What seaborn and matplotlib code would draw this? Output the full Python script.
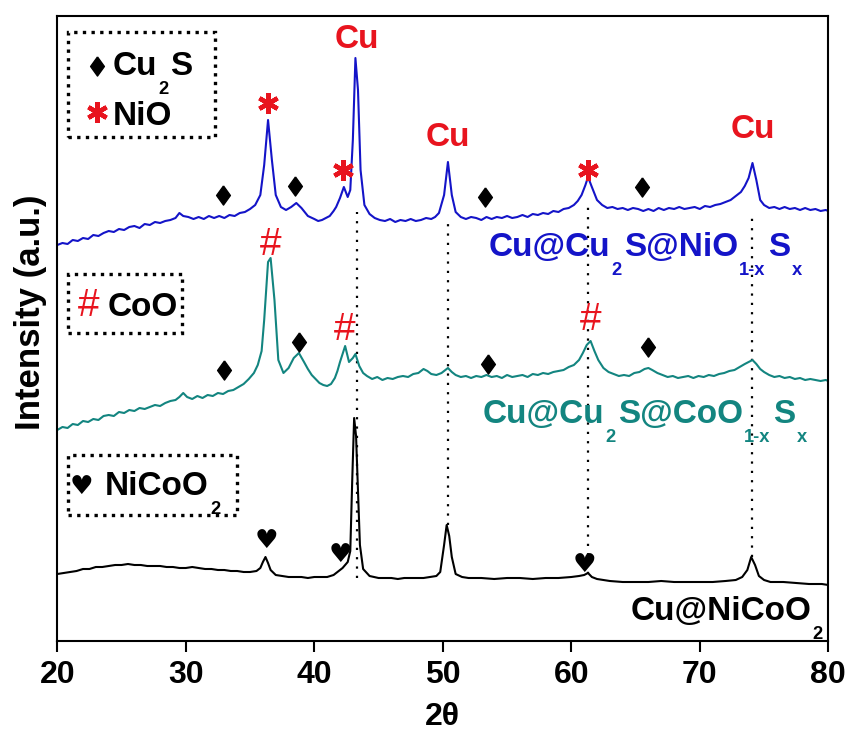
import matplotlib
matplotlib.use("Agg")
import matplotlib.pyplot as plt
from matplotlib.patches import Rectangle
from matplotlib.transforms import offset_copy
import seaborn as sns
import pandas as pd

# ---- diffraction patterns (2-theta in degrees, stacked intensity in a.u.) ----
two_theta_nio = [20.0, 20.4, 20.8, 21.2, 21.6, 22.0, 22.4, 22.8, 23.2, 23.6, 24.0, 24.4,
                 24.8, 25.2, 25.6, 26.0, 26.4, 26.8, 27.2, 27.6, 28.0, 28.4, 28.8, 29.2,
                 29.5, 29.8, 30.2, 30.6, 31.0, 31.4, 31.8, 32.2, 32.6, 33.0, 33.4, 33.8,
                 34.2, 34.6, 35.0, 35.4, 35.8, 36.1, 36.4, 36.7, 37.0, 37.4, 37.8, 38.2,
                 38.6, 39.0, 39.5, 40.0, 40.3, 40.6, 40.9, 41.2, 41.5, 41.7, 42.0, 42.3,
                 42.6, 42.8, 43.0, 43.2, 43.4, 43.6, 43.9, 44.3, 44.7, 45.1, 45.5, 45.9,
                 46.3, 46.7, 47.1, 47.5, 47.9, 48.3, 48.7, 49.1, 49.4, 49.7, 50.1, 50.4,
                 50.7, 51.0, 51.4, 51.8, 52.2, 52.6, 53.0, 53.4, 53.8, 54.2, 54.6, 55.0,
                 55.4, 55.8, 56.2, 56.6, 57.0, 57.4, 57.8, 58.2, 58.6, 59.0, 59.4, 59.8,
                 60.2, 60.5, 60.8, 61.1, 61.3, 61.6, 62.0, 62.4, 62.8, 63.2, 63.6, 64.0,
                 64.4, 64.8, 65.2, 65.6, 66.0, 66.4, 66.8, 67.2, 67.6, 68.0, 68.4, 68.8,
                 69.2, 69.6, 70.0, 70.4, 70.8, 71.2, 71.6, 72.0, 72.4, 72.8, 73.2, 73.5,
                 73.8, 74.1, 74.4, 74.7, 75.0, 75.4, 75.8, 76.2, 76.6, 77.0, 77.4, 77.8,
                 78.2, 78.6, 79.0, 79.4, 79.8, 80.0]
int_nio = [396, 398, 397, 401, 400, 403, 402, 406, 405, 408, 410, 409,
           412, 411, 414, 415, 413, 417, 416, 419, 418, 420, 421, 423,
           428, 425, 424, 422, 424, 422, 425, 423, 425, 423, 426, 425,
           428, 429, 432, 436, 446, 476, 521, 481, 446, 434, 431, 434,
           438, 433, 425, 422, 420, 421, 423, 425, 430, 434, 443, 454,
           444, 451, 501, 583, 551, 471, 436, 427, 423, 421, 420, 422,
           419, 421, 420, 422, 420, 421, 423, 422, 424, 428, 446, 479,
           446, 429, 424, 422, 424, 423, 421, 424, 422, 424, 423, 425,
           423, 424, 426, 424, 427, 426, 428, 427, 430, 429, 432, 433,
           436, 440, 446, 456, 464, 454, 441, 436, 433, 434, 432, 433,
           431, 433, 432, 430, 432, 430, 433, 431, 433, 432, 434, 432,
           433, 434, 432, 435, 434, 436, 437, 439, 441, 445, 449, 455,
           463, 478, 461, 441, 436, 433, 434, 432, 434, 432, 433, 431,
           433, 431, 432, 430, 431, 430]

two_theta_coo = [20.0, 20.4, 20.8, 21.2, 21.6, 22.0, 22.4, 22.8, 23.2, 23.6, 24.0, 24.4,
                 24.8, 25.2, 25.6, 26.0, 26.4, 26.8, 27.2, 27.6, 28.0, 28.4, 28.8, 29.2,
                 29.5, 29.8, 30.1, 30.5, 30.9, 31.3, 31.7, 32.1, 32.5, 32.9, 33.3, 33.7,
                 34.1, 34.5, 34.9, 35.3, 35.6, 35.9, 36.1, 36.4, 36.6, 36.9, 37.2, 37.6,
                 38.0, 38.4, 38.8, 39.2, 39.5, 39.8, 40.1, 40.4, 40.7, 41.0, 41.3, 41.6,
                 41.8, 42.0, 42.4, 42.7, 43.0, 43.2, 43.5, 43.8, 44.1, 44.5, 44.9, 45.3,
                 45.7, 46.1, 46.5, 46.9, 47.3, 47.7, 48.1, 48.5, 48.8, 49.1, 49.5, 49.9,
                 50.2, 50.4, 50.7, 51.0, 51.4, 51.8, 52.2, 52.6, 53.0, 53.4, 53.8, 54.2,
                 54.6, 55.0, 55.4, 55.8, 56.2, 56.6, 57.0, 57.4, 57.8, 58.2, 58.6, 59.0,
                 59.4, 59.8, 60.2, 60.6, 60.9, 61.2, 61.5, 61.8, 62.1, 62.5, 62.9, 63.3,
                 63.7, 64.1, 64.5, 64.9, 65.3, 65.7, 66.0, 66.3, 66.7, 67.1, 67.5, 67.9,
                 68.3, 68.7, 69.1, 69.5, 69.9, 70.3, 70.7, 71.1, 71.5, 71.9, 72.3, 72.7,
                 73.1, 73.5, 73.8, 74.1, 74.4, 74.7, 75.0, 75.4, 75.8, 76.2, 76.6, 77.0,
                 77.4, 77.8, 78.2, 78.6, 79.0, 79.4, 79.8, 80.0]
int_coo = [211, 214, 213, 217, 216, 220, 219, 222, 221, 225, 226, 225,
           229, 228, 231, 230, 233, 232, 234, 236, 235, 238, 240, 241,
           244, 248, 244, 242, 245, 243, 246, 245, 248, 247, 250, 251,
           254, 257, 262, 268, 276, 290, 321, 379, 383, 341, 281, 268,
           273, 283, 288, 279, 272, 266, 262, 258, 256, 255, 257, 263,
           270, 279, 295, 279, 283, 287, 275, 268, 265, 262, 264, 261,
           263, 262, 264, 265, 264, 267, 268, 272, 270, 267, 266, 268,
           271, 273, 269, 266, 264, 265, 263, 265, 264, 266, 264, 265,
           263, 266, 264, 265, 266, 264, 267, 266, 268, 267, 269, 270,
           271, 274, 276, 281, 288, 296, 300, 290, 281, 273, 269, 267,
           265, 266, 265, 268, 269, 272, 273, 271, 268, 266, 264, 265,
           263, 264, 265, 263, 265, 264, 266, 265, 267, 268, 270, 271,
           274, 277, 279, 281, 277, 272, 269, 266, 264, 265, 263, 264,
           262, 263, 261, 262, 261, 260, 261, 260]

two_theta_nicoo2 = [20.0, 20.5, 21.0, 21.5, 22.0, 22.5, 23.0, 23.5, 24.0, 24.5, 25.0, 25.5,
                    26.0, 26.5, 27.0, 27.5, 28.0, 28.5, 29.0, 29.5, 30.0, 30.5, 31.0, 31.5,
                    32.0, 32.5, 33.0, 33.5, 34.0, 34.5, 35.0, 35.5, 35.8, 36.0, 36.2, 36.4,
                    36.6, 37.0, 37.5, 38.0, 38.5, 39.0, 39.5, 40.0, 40.5, 41.0, 41.5, 41.8,
                    42.2, 42.6, 42.8, 42.95, 43.1, 43.25, 43.4, 43.55, 43.8, 44.3, 45.0, 45.5,
                    46.0, 46.5, 47.0, 47.5, 48.0, 48.5, 49.0, 49.5, 49.8, 50.1, 50.3, 50.5,
                    50.7, 51.0, 51.5, 52.0, 53.0, 54.0, 55.0, 56.0, 57.0, 58.0, 59.0, 60.0,
                    60.6, 61.0, 61.3, 61.6, 62.0, 62.5, 63.0, 64.0, 65.0, 66.0, 67.0, 68.0,
                    69.0, 70.0, 71.0, 72.0, 72.8, 73.3, 73.7, 74.0, 74.3, 74.6, 75.0, 75.5,
                    76.5, 77.5, 78.5, 79.5, 80.0]
int_nicoo2 = [67, 68, 69, 70, 72, 72, 74, 74, 75, 76, 76, 77,
              76, 76, 75, 75, 75, 74, 74, 73, 73, 74, 73, 72,
              72, 71, 71, 70, 70, 69, 69, 70, 73, 79, 84, 78,
              71, 66, 65, 64, 64, 64, 63, 64, 64, 64, 66, 69,
              73, 79, 90, 160, 223, 205, 150, 96, 72, 65, 63, 63,
              63, 62, 63, 63, 63, 63, 64, 65, 69, 96, 116, 105,
              84, 67, 64, 63, 63, 62, 63, 63, 62, 63, 63, 64,
              65, 66, 68, 64, 62, 61, 60, 59, 59, 59, 60, 59,
              59, 59, 59, 60, 61, 64, 71, 84, 76, 65, 61, 59,
              59, 58, 57, 57, 56]

# ---- phase markers ----
cu_peaks = [43.3, 50.4, 74.1]
cu_label_y = [601, 504, 511]
cu_guide_top = [429, 420, 425]
cu_guide_bottom = [63, 116, 84]
nio_guide = [61.3, 437, 67]          # x, top, bottom

cu2s_nio_x = [32.9, 38.5, 53.3, 65.5]
cu2s_nio_y = [446, 455, 444, 454]
cu2s_coo_x = [33.0, 38.8, 53.5, 66.0]
cu2s_coo_y = [271, 299, 277, 294]
nio_x = [36.4, 42.2, 61.3]
nio_y = [538, 471, 471]
coo_x = [36.6, 42.4, 61.5]
coo_y = [396, 311, 321]
nicoo2_x = [36.3, 42.0, 61.0]
nicoo2_y = [100, 86, 76]

x_ticks = [20, 30, 40, 50, 60, 70, 80]

BLUE = "#1414c8"
TEAL = "#138580"
RED = "#e8141e"

sns.set_theme(style="white")
plt.rcParams["font.family"] = ["Liberation Sans", "DejaVu Sans"]
plt.rcParams["text.color"] = "black"
plt.rcParams["axes.labelcolor"] = "black"
plt.rcParams["xtick.color"] = "black"

fig = plt.figure(figsize=(8.52, 7.38), dpi=100)
ax = fig.add_axes([57.3 / 852, 1 - 641 / 738, 771 / 852, 625 / 738])
renderer = fig.canvas.get_renderer()


def formula(x, y, parts, color="black", size=24):
    """Write a chemical formula piece by piece with deep subscripts."""
    dx = 0.0
    for s, sub in parts:
        fs = size * 0.55 if sub else size
        dy = -size * 0.56 if sub else 0.0
        if sub:
            dx += 1.0
        tr = offset_copy(ax.transData, fig=fig, x=dx, y=dy, units="points")
        t = ax.text(x, y, s, transform=tr, fontsize=fs, fontweight="bold",
                    color=color, ha="left", va="baseline", zorder=4)
        dx += t.get_window_extent(renderer).width * 72.0 / fig.dpi
        if sub:
            dx += 1.5


frames = [
    pd.DataFrame({"two_theta": two_theta_nio, "intensity": int_nio, "sample": "nio"}),
    pd.DataFrame({"two_theta": two_theta_coo, "intensity": int_coo, "sample": "coo"}),
    pd.DataFrame({"two_theta": two_theta_nicoo2, "intensity": int_nicoo2, "sample": "nicoo2"}),
]
data = pd.concat(frames, ignore_index=True)

# guide lines for Cu reflections (behind the curves)
dot = (0, (1, 3.2))
for xp, top, bot in zip(cu_peaks, cu_guide_top, cu_guide_bottom):
    ax.plot([xp, xp], [bot, top], color="black", lw=1.6, ls=dot, zorder=1)
ax.plot([nio_guide[0]] * 2, [nio_guide[2], nio_guide[1]], color="black", lw=1.6, ls=dot, zorder=1)

sns.lineplot(data=data, x="two_theta", y="intensity", hue="sample",
             palette={"nio": BLUE, "coo": TEAL, "nicoo2": "black"},
             hue_order=["nio", "coo", "nicoo2"], sort=False, estimator=None,
             lw=1.5, legend=False, ax=ax, zorder=2)

# diamond marker (taller than wide)
diamond = [(0, 1), (0.72, 0), (0, -1), (-0.72, 0), (0, 1)]
ax.scatter(cu2s_nio_x, cu2s_nio_y, marker=diamond, s=190, color="black", zorder=4)
ax.scatter(cu2s_coo_x, cu2s_coo_y, marker=diamond, s=190, color="black", zorder=4)
ax.plot(nio_x, nio_y, ls="none", marker=(6, 2, 0), ms=15, mew=3.2, color=RED, zorder=4)
for xv, yv in zip(coo_x, coo_y):
    ax.text(xv, yv, "#", color=RED, fontsize=28, ha="center", va="center", zorder=4)
for xv, yv in zip(nicoo2_x, nicoo2_y):
    ax.text(xv, yv, "\u2665", color="black", fontsize=19, ha="center", va="center",
            family=["DejaVu Sans"], zorder=4)
for xv, yv in zip(cu_peaks, cu_label_y):
    ax.text(xv, yv, "Cu", color=RED, fontsize=24, fontweight="bold", ha="center",
            va="center", zorder=4)

# sample names
formula(53.55, 385, [("Cu@Cu", False), ("2", True), ("S@NiO", False), ("1-x", True),
                     ("S", False), ("x", True)], color=BLUE)
formula(53.1, 218, [("Cu@Cu", False), ("2", True), ("S@CoO", False), ("1-x", True),
                    ("S", False), ("x", True)], color=TEAL)
formula(64.6, 21, [("Cu@NiCoO", False), ("2", True)])

# dotted legend boxes
for x0, x1, y0, y1 in [(20.83, 32.28, 504, 609), (20.83, 29.74, 308, 367),
                       (20.83, 33.99, 126, 186)]:
    ax.add_patch(Rectangle((x0, y0), x1 - x0, y1 - y0, fill=False, ec="black",
                           lw=2.4, ls=(0, (1, 1.6)), zorder=3))
ax.scatter([23.1], [575], marker=diamond, s=190, color="black", zorder=4)
formula(24.27, 566, [("Cu", False), ("2", True), ("S", False)])
ax.plot([23.1], [529], marker=(6, 2, 0), ms=15, mew=3.2, color=RED, zorder=4)
ax.text(24.35, 516, "NiO", fontsize=24, fontweight="bold", ha="left", va="baseline")
ax.text(21.6, 325, "#", color=RED, fontsize=28, ha="left", va="baseline")
ax.text(23.9, 325, "CoO", fontsize=24, fontweight="bold", ha="left", va="baseline")
ax.text(21.9, 154, "\u2665", fontsize=19, ha="center", va="center", family=["DejaVu Sans"])
formula(23.7, 146, [("NiCoO", False), ("2", True)])

ax.set_xlim(20, 80)
ax.set_ylim(0, 625)
ax.set_xticks(x_ticks)
ax.set_xticklabels([str(t) for t in x_ticks], fontsize=23, fontweight="bold")
ax.set_yticks([])
ax.tick_params(axis="x", direction="out", length=8, width=1.5, color="black",
               labelcolor="black", bottom=True, pad=6)
for sp in ax.spines.values():
    sp.set_color("black")
    sp.set_linewidth(1.5)
ax.set_xlabel("2\u03b8", fontsize=23, fontweight="bold", labelpad=8)
ax.set_ylabel("Intensity (a.u.)", fontsize=25, fontweight="bold")
ax.yaxis.set_label_coords(-0.014, 0.526)

fig.savefig("out.png", dpi=100)
